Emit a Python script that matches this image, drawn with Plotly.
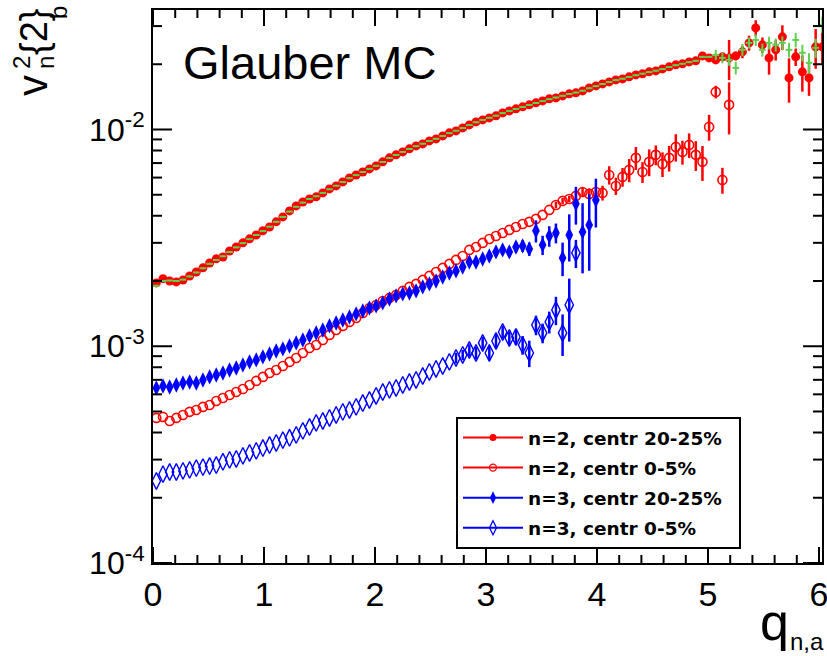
import math
import plotly.graph_objects as go

# ---------------- data ----------------
BIN_W = 0.06  # histogram bin width in q_{n,a}

# n=2, centrality 20-25% (red filled)
v2_c20 = [1.96e-3, 2.05e-3, 2.00e-3, 1.98e-3, 2.02e-3, 2.11e-3, 2.20e-3, 2.30e-3, 2.42e-3, 2.53e-3,
          2.58e-3, 2.75e-3, 2.87e-3, 3.00e-3, 3.13e-3, 3.26e-3, 3.41e-3, 3.55e-3, 3.75e-3, 3.95e-3,
          4.21e-3, 4.44e-3, 4.63e-3, 4.78e-3, 4.89e-3, 5.10e-3, 5.32e-3, 5.49e-3, 5.73e-3, 5.98e-3,
          6.17e-3, 6.37e-3, 6.58e-3, 6.79e-3, 7.09e-3, 7.40e-3, 7.64e-3, 7.88e-3, 8.14e-3, 8.40e-3,
          8.58e-3, 8.86e-3, 9.05e-3, 9.34e-3, 9.65e-3, 9.85e-3, 1.017e-2, 1.050e-2, 1.084e-2, 1.107e-2,
          1.131e-2, 1.156e-2, 1.193e-2, 1.218e-2, 1.245e-2, 1.272e-2, 1.299e-2, 1.327e-2, 1.355e-2, 1.385e-2,
          1.399e-2, 1.429e-2, 1.460e-2, 1.476e-2, 1.507e-2, 1.556e-2, 1.589e-2, 1.623e-2, 1.658e-2, 1.694e-2,
          1.712e-2, 1.749e-2, 1.786e-2, 1.806e-2, 1.845e-2, 1.864e-2, 1.904e-2, 1.945e-2, 1.987e-2, 2.008e-2,
          2.051e-2, 2.073e-2, 2.186e-2, 2.140e-2, 2.095e-2, 2.163e-2, 2.140e-2, 2.186e-2, 2.281e-2, 2.509e-2,
          2.943e-2, 2.457e-2, 2.140e-2, 2.330e-2, 2.675e-2, 1.730e-2, 2.163e-2, 1.845e-2, 1.730e-2, 2.406e-2,
          2.406e-2]
v2_c20_err = {80: 4e-4, 81: 4e-4, 82: 5e-4, 83: 5e-4, 84: 6e-4, 85: 8e-4, 86: 4.5e-3, 87: 1.0e-3,
              88: 1.5e-3, 89: 2.0e-3, 90: 2.5e-3, 91: 2.0e-3, 92: 3.5e-3, 93: 2.5e-3, 94: 3.5e-3,
              95: 4.0e-3, 96: 2.0e-3, 97: 3.5e-3, 98: 3.0e-3, 99: 5.0e-3, 100: 4.0e-3}

# second (green) histogram on top of n=2, 20-25%
v2_c20_green = [1.90e-3, 2.00e-3, 2.01e-3, 2.00e-3, 2.03e-3, 2.10e-3, 2.19e-3, 2.29e-3, 2.40e-3, 2.50e-3,
                2.60e-3, 2.72e-3, 2.86e-3, 2.99e-3, 3.12e-3, 3.26e-3, 3.40e-3, 3.56e-3, 3.75e-3, 3.95e-3,
                4.18e-3, 4.40e-3, 4.60e-3, 4.78e-3, 4.92e-3, 5.10e-3, 5.30e-3, 5.50e-3, 5.72e-3, 5.96e-3,
                6.16e-3, 6.37e-3, 6.58e-3, 6.80e-3, 7.08e-3, 7.38e-3, 7.63e-3, 7.88e-3, 8.13e-3, 8.38e-3,
                8.60e-3, 8.85e-3, 9.06e-3, 9.33e-3, 9.62e-3, 9.87e-3, 1.015e-2, 1.048e-2, 1.080e-2, 1.107e-2,
                1.132e-2, 1.158e-2, 1.190e-2, 1.218e-2, 1.244e-2, 1.270e-2, 1.298e-2, 1.325e-2, 1.352e-2, 1.380e-2,
                1.405e-2, 1.430e-2, 1.458e-2, 1.480e-2, 1.510e-2, 1.550e-2, 1.585e-2, 1.620e-2, 1.655e-2, 1.690e-2,
                1.715e-2, 1.748e-2, 1.780e-2, 1.810e-2, 1.840e-2, 1.868e-2, 1.900e-2, 1.940e-2, 1.980e-2, 2.010e-2,
                2.045e-2, 2.075e-2, 2.163e-2, 2.163e-2, 2.210e-2, 2.140e-2, 2.095e-2, 1.924e-2, 2.330e-2, 2.510e-2,
                2.590e-2, 2.330e-2, 2.510e-2, 2.460e-2, 2.510e-2, 2.330e-2, 2.590e-2, 2.260e-2, 2.030e-2, 2.380e-2,
                3.040e-2]
v2_c20_green_err = {84: 1.2e-3, 85: 1.2e-3, 86: 1.3e-3, 87: 1.3e-3, 88: 1.5e-3, 89: 1.5e-3, 90: 1.6e-3,
                    91: 1.6e-3, 92: 1.7e-3, 93: 1.7e-3, 94: 1.8e-3, 95: 1.8e-3, 96: 2.0e-3, 97: 2.0e-3,
                    98: 2.2e-3, 99: 2.4e-3, 100: 2.6e-3}

# n=2, centrality 0-5% (red open)
v2_c0 = [4.67e-4, 4.72e-4, 4.52e-4, 4.67e-4, 4.82e-4, 4.98e-4, 5.08e-4, 5.25e-4, 5.36e-4, 5.59e-4,
         5.77e-4, 5.96e-4, 6.15e-4, 6.35e-4, 6.63e-4, 6.92e-4, 7.22e-4, 7.53e-4, 7.77e-4, 8.11e-4,
         8.47e-4, 8.83e-4, 9.31e-4, 9.82e-4, 1.014e-3, 1.069e-3, 1.128e-3, 1.189e-3, 1.241e-3, 1.295e-3,
         1.351e-3, 1.424e-3, 1.502e-3, 1.551e-3, 1.618e-3, 1.671e-3, 1.725e-3, 1.800e-3, 1.878e-3, 1.939e-3,
         2.023e-3, 2.111e-3, 2.202e-3, 2.298e-3, 2.398e-3, 2.502e-3, 2.610e-3, 2.783e-3, 2.872e-3, 2.997e-3,
         3.127e-3, 3.228e-3, 3.332e-3, 3.441e-3, 3.552e-3, 3.667e-3, 3.750e-3, 3.868e-3, 4.036e-3, 4.256e-3,
         4.487e-3, 4.683e-3, 4.780e-3, 4.939e-3, 5.152e-3, 5.045e-3, 5.152e-3, 5.100e-3, 6.170e-3, 5.490e-3,
         6.043e-3, 6.511e-3, 7.400e-3, 6.370e-3, 7.090e-3, 7.640e-3, 6.939e-3, 7.400e-3, 8.310e-3, 7.880e-3,
         8.490e-3, 7.640e-3, 7.090e-3, 1.028e-2, 1.491e-2, 5.854e-3, 1.299e-2]
v2_c0_err = {60: 1.5e-4, 61: 1.5e-4, 62: 1.6e-4, 63: 2.0e-4, 64: 2.5e-4, 65: 3.0e-4, 66: 3.0e-4,
             67: 4.0e-4, 68: 6.0e-4, 69: 5.0e-4, 70: 6.0e-4, 71: 8.0e-4, 72: 9.0e-4, 73: 7.0e-4,
             74: 1.0e-3, 75: 8.0e-4, 76: 9.0e-4, 77: 1.0e-3, 78: 1.2e-3, 79: 1.0e-3, 80: 1.1e-3,
             81: 1.2e-3, 82: 1.3e-3, 83: 1.4e-3, 84: 1.0e-3, 85: 8.0e-4, 86: 3.5e-3}

# n=3, centrality 20-25% (blue filled)
v3_c20 = [6.42e-4, 6.56e-4, 6.49e-4, 6.63e-4, 6.77e-4, 6.84e-4, 6.77e-4, 6.99e-4, 7.22e-4, 7.37e-4,
          7.53e-4, 7.77e-4, 7.94e-4, 8.20e-4, 8.47e-4, 8.65e-4, 8.93e-4, 9.21e-4, 9.51e-4, 9.72e-4,
          1.003e-3, 1.036e-3, 1.069e-3, 1.116e-3, 1.152e-3, 1.189e-3, 1.241e-3, 1.281e-3, 1.322e-3, 1.365e-3,
          1.410e-3, 1.455e-3, 1.502e-3, 1.535e-3, 1.585e-3, 1.653e-3, 1.707e-3, 1.744e-3, 1.762e-3, 1.800e-3,
          1.878e-3, 1.939e-3, 2.001e-3, 2.088e-3, 2.179e-3, 2.226e-3, 2.322e-3, 2.449e-3, 2.449e-3, 2.528e-3,
          2.610e-3, 2.724e-3, 2.783e-3, 2.724e-3, 2.872e-3, 2.903e-3, 2.812e-3, 3.410e-3, 2.934e-3, 3.228e-3,
          3.332e-3, 2.556e-3, 3.260e-3, 4.540e-3, 3.370e-3, 3.630e-3, 4.730e-3]
v3_c20_err = {45: 8e-5, 46: 8e-5, 47: 9e-5, 48: 1.0e-4, 49: 1.0e-4, 50: 1.2e-4, 51: 1.3e-4, 52: 1.4e-4,
              53: 1.5e-4, 54: 1.6e-4, 55: 1.8e-4, 56: 2.0e-4, 57: 4.0e-4, 58: 3.0e-4, 59: 3.5e-4,
              60: 3.5e-4, 61: 4.5e-4, 62: 8.0e-4, 63: 9.0e-4, 64: 1.2e-3, 65: 1.4e-3, 66: 1.2e-3}

# n=3, centrality 0-5% (blue open)
v3_c0 = [2.39e-4, 2.57e-4, 2.63e-4, 2.63e-4, 2.66e-4, 2.69e-4, 2.74e-4, 2.77e-4, 2.80e-4, 2.83e-4,
         2.93e-4, 2.99e-4, 3.02e-4, 3.12e-4, 3.22e-4, 3.29e-4, 3.39e-4, 3.50e-4, 3.58e-4, 3.69e-4,
         3.78e-4, 3.90e-4, 4.07e-4, 4.24e-4, 4.43e-4, 4.52e-4, 4.67e-4, 4.82e-4, 4.98e-4, 5.08e-4,
         5.25e-4, 5.47e-4, 5.65e-4, 5.90e-4, 6.15e-4, 6.29e-4, 6.42e-4, 6.63e-4, 6.84e-4, 6.99e-4,
         7.29e-4, 7.61e-4, 7.86e-4, 8.11e-4, 8.47e-4, 8.83e-4, 9.12e-4, 9.61e-4, 9.31e-4, 1.036e-3,
         9.31e-4, 1.058e-3, 1.164e-3, 1.092e-3, 1.104e-3, 1.014e-3, 9.31e-4, 1.254e-3, 1.152e-3, 1.295e-3,
         1.471e-3, 1.152e-3, 1.551e-3, 2.695e-3]
v3_c0_err = {45: 5e-5, 46: 5e-5, 47: 6e-5, 48: 6e-5, 49: 7e-5, 50: 7e-5, 51: 8e-5, 52: 8e-5, 53: 8e-5,
             54: 9e-5, 55: 1.0e-4, 56: 1.3e-4, 57: 1.3e-4, 58: 1.2e-4, 59: 1.5e-4, 60: 2.2e-4,
             61: 2.5e-4, 62: 5.0e-4, 63: 4.0e-4}

legend_labels = ["n=2, centr 20-25%", "n=2, centr 0-5%", "n=3, centr 20-25%", "n=3, centr 0-5%"]
x_tick_vals = [0, 1, 2, 3, 4, 5, 6]
y_tick_vals = [1e-4, 1e-3, 1e-2]
y_tick_text = ["10<sup>-4</sup>", "10<sup>-3</sup>", "10<sup>-2</sup>"]

X_RANGE = [0, 6.027]
Y_RANGE_LOG = [-4, -1.4487]


# ---------------- helpers ----------------
def centers(n):
    return [round(BIN_W * (i + 0.5), 4) for i in range(n)]


def errs(n, d):
    return [d.get(i, 0.0) for i in range(n)]


RED = "#ff0000"
BLUE = "#0000ff"
GREEN = "#5fcf4f"

fig = go.Figure()

fig.add_trace(go.Scatter(
    x=centers(len(v2_c20)), y=v2_c20, mode="markers", showlegend=False,
    marker=dict(symbol="circle", size=9, color=RED, line=dict(width=0)),
    error_y=dict(type="data", array=errs(len(v2_c20), v2_c20_err), color=RED, thickness=2.5, width=0)))

fig.add_trace(go.Scatter(
    x=centers(len(v2_c20_green)), y=v2_c20_green, mode="markers", showlegend=False,
    marker=dict(symbol="circle", size=2, color=GREEN),
    error_x=dict(type="constant", value=BIN_W / 2, color=GREEN, thickness=2, width=0),
    error_y=dict(type="data", array=errs(len(v2_c20_green), v2_c20_green_err), color=GREEN,
                 thickness=2, width=0)))

fig.add_trace(go.Scatter(
    x=centers(len(v2_c0)), y=v2_c0, mode="markers", showlegend=False,
    marker=dict(symbol="circle-open", size=9, color=RED, line=dict(width=1.6)),
    error_y=dict(type="data", array=errs(len(v2_c0), v2_c0_err), color=RED, thickness=2.5, width=0)))

fig.add_trace(go.Scatter(
    x=centers(len(v3_c20)), y=v3_c20, mode="markers", showlegend=False,
    marker=dict(symbol="diamond-tall", size=11, color=BLUE, line=dict(width=0)),
    error_y=dict(type="data", array=errs(len(v3_c20), v3_c20_err), color=BLUE, thickness=2.5, width=0)))

fig.add_trace(go.Scatter(
    x=centers(len(v3_c0)), y=v3_c0, mode="markers", showlegend=False,
    marker=dict(symbol="diamond-tall-open", size=12, color=BLUE, line=dict(width=1.4)),
    error_y=dict(type="data", array=errs(len(v3_c0), v3_c0_err), color=BLUE, thickness=2.5, width=0)))

leg_styles = [
    (RED, dict(symbol="circle", size=7, color=RED)),
    (RED, dict(symbol="circle-open", size=7, color=RED, line=dict(width=1.3))),
    (BLUE, dict(symbol="diamond-tall", size=9, color=BLUE)),
    (BLUE, dict(symbol="diamond-tall-open", size=10, color=BLUE, line=dict(width=1.3))),
]
for i, (lab, (col, mk)) in enumerate(zip(legend_labels, leg_styles)):
    fig.add_trace(go.Scatter(
        x=[None], y=[None], mode="lines+markers", name="<b>" + lab + "</b>\u00a0\u00a0",
        line=dict(color=col, width=2), marker=mk, legendgroup="g%d" % i))

# ---------------- layout ----------------
L, R, T, B = 153, 5, 10, 93
W, H = 827, 656
PW, PH = W - L - R, H - T - B


def px(xp):
    return (xp - L) / PW


def py(yp):
    return (H - B - yp) / PH


fig.update_layout(
    template="none",
    width=W, height=H, margin=dict(l=L, r=R, t=T, b=B, pad=0),
    paper_bgcolor="white", plot_bgcolor="white",
    font=dict(family="Liberation Sans, Arial, sans-serif", color="black"),
    showlegend=True,
    legend=dict(x=px(456), y=py(417), xanchor="left", yanchor="top",
                bgcolor="white", bordercolor="black", borderwidth=2,
                font=dict(size=18.5, family="DejaVu Sans, Liberation Sans, sans-serif", color="black"),
                tracegroupgap=3, itemwidth=60),
    xaxis=dict(range=X_RANGE, tickmode="array", tickvals=x_tick_vals, ticks="",
               showline=True, linewidth=2, linecolor="black", mirror=True,
               showgrid=False, zeroline=False, tickfont=dict(size=34, color="black"),
               ticklabeloverflow="allow"),
    yaxis=dict(type="log", range=Y_RANGE_LOG, tickmode="array", tickvals=y_tick_vals,
               ticktext=y_tick_text, ticks="", showline=True,
               linewidth=2, linecolor="black", mirror=True, showgrid=False, zeroline=False,
               tickfont=dict(size=32, color="black"), ticklabeloverflow="allow"),
)

# ---- axis tick marks (inside, all four sides) drawn as paper-referenced shapes ----
tick_line = dict(color="black", width=2)


def xpaper(v):
    return (v - X_RANGE[0]) / (X_RANGE[1] - X_RANGE[0])


def ylog_paper(v):
    return (math.log10(v) - Y_RANGE_LOG[0]) / (Y_RANGE_LOG[1] - Y_RANGE_LOG[0])


x_minor = [round(0.2 * i, 3) for i in range(31) if i % 5 != 0 and 0.2 * i <= X_RANGE[1]]
y_minor = [m * 10.0 ** e for e in (-4, -3, -2) for m in range(2, 10)
           if math.log10(m * 10.0 ** e) <= Y_RANGE_LOG[1]]

shapes = []
for vals, ln in ((x_tick_vals, 16), (x_minor, 8)):
    for v in vals:
        xp = xpaper(v)
        shapes.append(dict(type="line", xref="paper", yref="paper", x0=xp, x1=xp,
                           y0=0, y1=ln / PH, line=tick_line, layer="above"))
        shapes.append(dict(type="line", xref="paper", yref="paper", x0=xp, x1=xp,
                           y0=1, y1=1 - ln / PH, line=tick_line, layer="above"))
for vals, ln in ((y_tick_vals, 19), (y_minor, 9)):
    for v in vals:
        yp = ylog_paper(v)
        shapes.append(dict(type="line", xref="paper", yref="paper", y0=yp, y1=yp,
                           x0=0, x1=ln / PW, line=tick_line, layer="above"))
        shapes.append(dict(type="line", xref="paper", yref="paper", y0=yp, y1=yp,
                           x0=1, x1=1 - ln / PW, line=tick_line, layer="above"))
fig.update_layout(shapes=shapes)

ann = [
    dict(text="Glauber MC", x=px(181), y=py(63), xanchor="left", yanchor="middle", font=dict(size=47)),
    dict(text="q", x=px(774), y=py(622), font=dict(size=52)),
    dict(text="n,a", x=px(807), y=py(641), font=dict(size=24)),
    dict(text="v", x=px(32), y=py(85), textangle=-90, font=dict(size=42)),
    dict(text="2", x=px(22), y=py(63), textangle=-90, font=dict(size=24)),
    dict(text="n", x=px(46), y=py(63), textangle=-90, font=dict(size=24)),
    dict(text="{2}", x=px(34), y=py(32), textangle=-90, font=dict(size=38)),
    dict(text="b", x=px(58), y=py(13), textangle=-90, font=dict(size=24)),
]
for a in ann:
    a.update(xref="paper", yref="paper", showarrow=False)
    a.setdefault("xanchor", "center")
    a.setdefault("yanchor", "middle")
fig.update_layout(annotations=ann)

fig.write_html("out.html")
